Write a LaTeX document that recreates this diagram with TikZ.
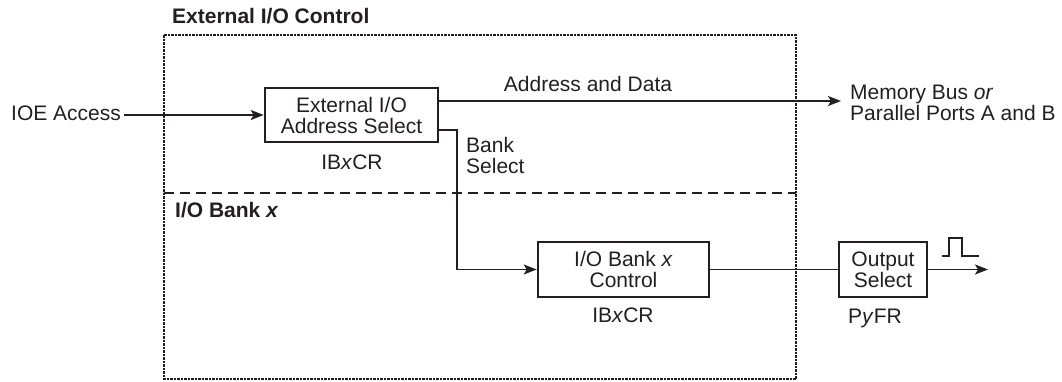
\documentclass[tikz,border=0pt]{standalone}
\usepackage{fontspec}
\setmainfont{Liberation Sans}
\usetikzlibrary{arrows.meta}
\definecolor{ink}{HTML}{231F20}
\tikzset{
  txt/.style={font=\fontsize{21}{21}\selectfont, text=ink, inner sep=0pt},
  btxt/.style={font=\fontsize{21}{21}\selectfont\bfseries, text=ink, inner sep=0pt},
  blk/.style={draw=ink, line width=2.6pt, inner sep=0pt, align=center,
    font=\fontsize{21}{21}\selectfont, text=ink},
  conn/.style={draw=ink, line width=1.6pt},
  arr/.style={conn, -{Stealth[length=13pt,width=10pt,inset=3pt]}},
  outer/.style={draw=ink, line width=2pt, dash pattern=on 2.5pt off 1pt},
  inner/.style={draw=ink, line width=2.4pt, dash pattern=on 10pt off 6pt},
}
\begin{document}
\begin{tikzpicture}[x=1pt,y=-1pt]
\useasboundingbox (0,0) rectangle (1062,381);
% outer region and divider
\draw[outer] (164,35) rectangle (796,379);
\coordinate (dl) at (164,193);
\coordinate (dr) at (796,193);
\draw[inner] (dl) -- (dr);
\node[btxt, anchor=base west] (title) at (172,23.5) {External I/O Control};
\node[btxt, anchor=base west] (bank) at (175,217.5) {I/O Bank \textit{x}};
% blocks
\node[blk, minimum width=173pt, minimum height=54pt] (sel) at (351.5,115)
  {External I/O\\Address Select};
\node[txt] (selreg) at (352,162) {IB\textit{x}CR};
\node[blk, minimum width=171pt, minimum height=55pt] (ctl) at (623.5,269.5)
  {I/O Bank \textit{x}\\Control};
\node[txt] (ctlreg) at (623,315) {IB\textit{x}CR};
\node[blk, minimum width=88pt, minimum height=55pt] (out) at (883,269.5)
  {Output\\Select};
\node[txt] (outreg) at (875,318) {P\textit{y}FR};
% external labels
\node[txt, anchor=base west] (ioe) at (11,120.5) {IOE Access};
\node[txt, anchor=west, align=left] (mem) at (850,103)
  {Memory Bus \textit{or}\\Parallel Ports A and B};
\node[txt] (ad) at (588,84) {Address and Data};
\node[txt, anchor=west, align=left] (bs) at (466,155.5) {Bank\\Select};
% connectors
\draw[arr] (ioe.east |- sel.west) ++(3pt,0) coordinate (ioeend) -- (sel.west);
\coordinate (memin) at (841,101);
\draw[arr] ([yshift=14pt]sel.east) -- (memin);
\coordinate (bend1) at (457,130);
\coordinate (bend2) at (457,269.5);
\draw[arr] ([yshift=-15pt]sel.east) -- (bend1) -- (bend2) -- (ctl.west);
\draw[conn] (ctl.east) -- (out.west);
\coordinate (outend) at (988,269.5);
\draw[arr] (out.east) -- (outend);
% pulse symbol
\coordinate (p0) at (942,256);
\coordinate (p1) at (949,256);
\coordinate (p2) at (949,238);
\coordinate (p3) at (962,238);
\coordinate (p4) at (962,256);
\coordinate (p5) at (979,256);
\draw[draw=ink, line width=1.4pt] (p0) -- (p1) -- (p2) -- (p3) -- (p4) -- (p5);
\end{tikzpicture}
\end{document}
